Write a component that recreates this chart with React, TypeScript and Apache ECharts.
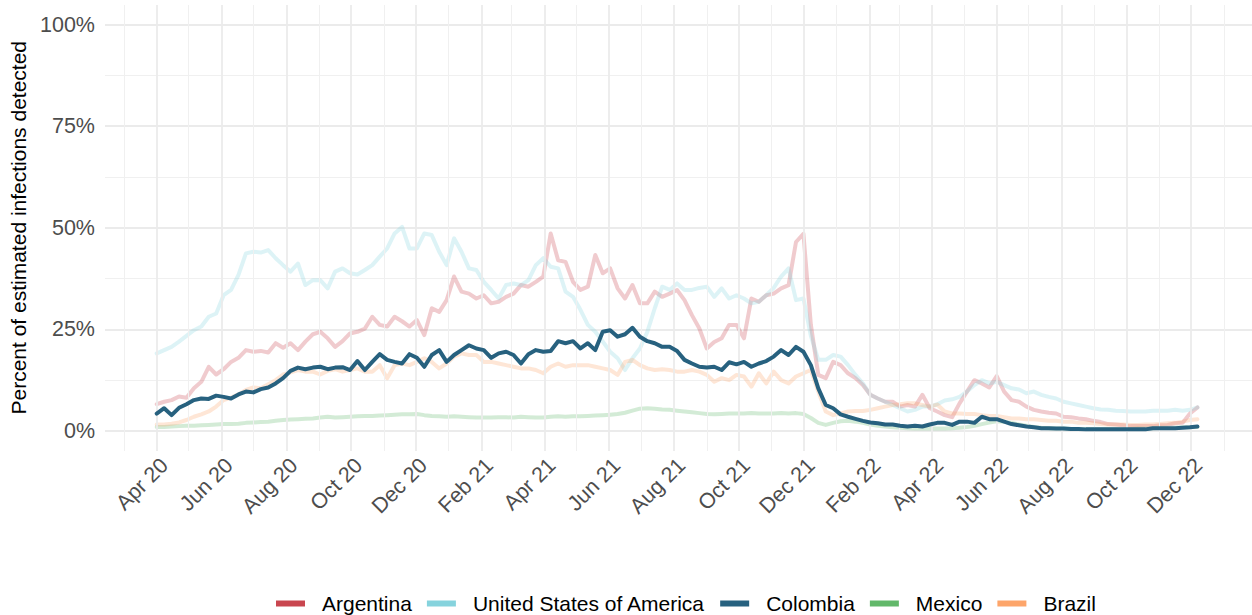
import React, { useEffect, useRef } from "react";
import * as echarts from "echarts";

const DAY = 86400000;
const START = Date.UTC(2020, 3, 1);
// weekly observation dates (Apr 1 2020 onwards)
const weekDates: number[] = Array.from({ length: 141 }, (_, k) => START + k * 7 * DAY);

const argentina = [
  6.6, 7.2, 7.6, 8.5, 8.2, 10.5, 12.1, 15.8, 13.9, 15.2,
  17.0, 18.0, 19.9, 19.5, 19.7, 19.3, 21.6, 20.5, 21.6, 19.9,
  22.0, 23.8, 24.4, 22.8, 20.7, 22.1, 24.0, 24.4, 25.2, 28.1,
  26.1, 25.7, 28.1, 27.0, 25.7, 27.3, 23.6, 30.2, 29.3, 32.2,
  38.0, 34.3, 33.8, 32.6, 33.4, 31.4, 31.8, 33.0, 33.8, 35.9,
  35.5, 36.7, 38.0, 48.6, 42.0, 41.6, 36.7, 34.7, 35.5, 43.3,
  38.8, 40.0, 35.1, 32.6, 35.9, 31.4, 31.4, 34.3, 33.0, 33.8,
  34.7, 32.2, 28.5, 25.2, 20.3, 21.9, 22.8, 26.1, 26.1, 22.8,
  32.6, 31.8, 33.4, 33.8, 35.1, 35.9, 46.5, 48.5, 26.1, 13.8,
  13.0, 17.0, 16.2, 14.2, 13.0, 11.3, 8.9, 8.0, 7.2, 7.2,
  6.0, 6.4, 6.0, 8.9, 5.6, 4.8, 3.9, 3.4, 6.8, 9.7,
  12.5, 11.7, 10.7, 13.5, 9.7, 7.6, 7.2, 6.0, 5.2, 4.8,
  4.5, 4.3, 3.5, 3.4, 3.1, 2.9, 2.5, 2.2, 1.7, 1.6,
  1.4, 1.2, 1.2, 1.2, 1.2, 1.4, 1.5, 1.9, 2.0, 4.3,
  5.8,
];

const usa = [
  19.1, 19.9, 20.7, 22.0, 23.4, 24.8, 25.7, 28.1, 28.9, 33.4,
  34.7, 38.4, 43.7, 44.1, 43.9, 44.5, 42.5, 40.8, 39.2, 41.2,
  35.9, 37.1, 37.1, 35.1, 39.2, 40.0, 38.8, 38.5, 39.6, 40.8,
  42.9, 44.9, 48.6, 50.2, 44.9, 44.9, 48.6, 48.2, 44.1, 40.8,
  47.4, 44.1, 40.0, 39.6, 36.7, 34.7, 32.6, 35.9, 36.3, 35.9,
  37.1, 40.8, 42.5, 40.4, 40.0, 34.3, 33.0, 29.8, 26.1, 24.4,
  22.0, 19.5, 17.9, 15.0, 17.9, 20.3, 24.4, 30.2, 35.5, 34.7,
  36.3, 34.7, 34.7, 35.2, 35.5, 33.0, 35.1, 32.6, 33.4, 32.6,
  31.4, 31.8, 33.4, 35.2, 38.0, 40.0, 32.2, 32.6, 23.4, 17.5,
  17.5, 18.7, 18.3, 16.2, 13.8, 11.7, 8.9, 8.0, 7.2, 6.4,
  5.6, 4.8, 5.2, 6.0, 6.0, 6.6, 7.5, 7.8, 8.4, 9.7,
  11.3, 12.5, 11.7, 12.1, 11.3, 10.5, 10.2, 9.3, 9.7, 8.9,
  8.4, 8.0, 7.2, 6.8, 6.4, 6.0, 5.6, 5.3, 5.2, 5.0,
  4.9, 4.8, 4.8, 4.8, 5.0, 5.0, 5.0, 5.2, 5.0, 5.2,
  5.8,
];

const colombia = [
  4.3, 5.6, 3.9, 5.7, 6.6, 7.6, 8.0, 7.9, 8.7, 8.4,
  8.0, 9.0, 9.7, 9.5, 10.3, 10.7, 11.7, 13.0, 14.8, 15.6,
  15.2, 15.6, 15.8, 15.2, 15.6, 15.7, 15.0, 17.2, 15.0, 17.0,
  18.9, 17.5, 17.0, 16.6, 18.9, 18.0, 15.8, 18.7, 19.9, 17.0,
  18.7, 19.9, 21.1, 20.3, 19.9, 18.0, 19.1, 19.5, 18.7, 16.6,
  18.9, 19.9, 19.5, 19.7, 22.1, 21.6, 22.1, 20.3, 21.6, 19.9,
  24.4, 24.8, 23.2, 23.8, 25.4, 23.2, 22.1, 21.6, 20.7, 20.7,
  19.7, 17.5, 16.6, 15.8, 15.6, 15.8, 15.0, 16.9, 16.4, 17.0,
  15.8, 16.6, 17.2, 18.3, 19.9, 18.7, 20.7, 19.5, 16.2, 10.5,
  6.4, 5.6, 4.1, 3.5, 3.0, 2.5, 2.1, 1.9, 1.6, 1.6,
  1.3, 1.1, 1.3, 1.1, 1.6, 2.0, 2.0, 1.5, 2.3, 2.3,
  2.0, 3.5, 2.9, 2.9, 2.3, 1.7, 1.4, 1.1, 0.9, 0.7,
  0.7, 0.6, 0.6, 0.5, 0.5, 0.4, 0.4, 0.4, 0.4, 0.4,
  0.4, 0.4, 0.4, 0.4, 0.7, 0.7, 0.7, 0.7, 0.8, 0.9,
  1.1,
];

const mexico = [
  1.0, 1.0, 1.1, 1.2, 1.3, 1.3, 1.4, 1.5, 1.6, 1.7,
  1.7, 1.8, 2.0, 2.1, 2.2, 2.3, 2.5, 2.7, 2.8, 2.9,
  3.0, 3.1, 3.3, 3.5, 3.3, 3.4, 3.5, 3.6, 3.7, 3.7,
  3.8, 3.9, 4.0, 4.1, 4.1, 4.2, 3.9, 3.7, 3.6, 3.5,
  3.6, 3.5, 3.4, 3.3, 3.3, 3.3, 3.4, 3.4, 3.3, 3.5,
  3.4, 3.3, 3.3, 3.5, 3.6, 3.5, 3.6, 3.6, 3.7, 3.8,
  3.9, 4.0, 4.2, 4.5, 5.0, 5.5, 5.6, 5.5, 5.3, 5.2,
  5.0, 4.8, 4.6, 4.4, 4.2, 4.1, 4.2, 4.3, 4.3, 4.3,
  4.4, 4.3, 4.3, 4.3, 4.4, 4.3, 4.4, 4.2, 3.2, 2.0,
  1.5, 2.0, 2.4, 2.5, 2.3, 2.0, 1.6, 1.3, 1.1, 0.9,
  0.8, 0.7, 0.6, 0.6, 0.6, 0.6, 0.6, 0.7, 0.8, 1.0,
  1.3, 1.7, 2.1, 2.4, 2.3, 2.0, 1.6, 1.3, 1.0, 0.8,
  0.7, 0.6, 0.6, 0.5, 0.5, 0.5, 0.5, 0.5, 0.5, 0.5,
  0.5, 0.5, 0.6, 0.6, 0.7, 0.8, 0.8, 0.8, 0.9, 0.9,
  1.0,
];

const brazil = [
  1.6, 1.6, 1.8, 2.1, 2.7, 3.5, 4.1, 4.8, 6.0, 7.6,
  8.2, 9.0, 10.1, 10.7, 10.5, 11.5, 12.5, 13.9, 14.4, 15.0,
  14.6, 14.6, 13.9, 14.8, 15.2, 14.6, 15.0, 15.4, 14.6, 14.6,
  16.2, 13.0, 16.2, 16.6, 16.2, 17.0, 17.9, 17.0, 15.4, 16.6,
  18.3, 19.1, 18.7, 18.7, 17.0, 17.0, 16.6, 16.2, 15.8, 15.4,
  15.4, 15.0, 14.2, 15.8, 16.6, 15.8, 16.2, 16.2, 16.2, 15.8,
  15.4, 15.0, 13.8, 17.0, 17.5, 16.2, 15.4, 15.0, 15.2, 15.0,
  14.6, 14.6, 15.0, 14.6, 13.8, 12.1, 13.0, 12.5, 13.8, 13.4,
  10.9, 14.2, 11.7, 14.6, 12.5, 11.7, 13.4, 14.2, 15.0, 9.7,
  4.8, 3.9, 4.3, 4.8, 4.9, 4.9, 5.2, 5.6, 6.0, 6.4,
  6.6, 6.8, 6.8, 6.4, 6.0, 6.5, 4.8, 4.3, 4.3, 4.2,
  4.2, 3.9, 3.7, 3.7, 3.4, 3.1, 3.1, 2.9, 2.9, 2.7,
  2.5, 2.5, 2.3, 2.3, 2.0, 2.0, 1.9, 1.7, 1.6, 1.6,
  1.6, 1.5, 1.5, 1.6, 1.6, 1.7, 1.9, 2.0, 2.3, 2.7,
  2.9,
];

const tickLabels = [
  "Apr 20", "Jun 20", "Aug 20", "Oct 20", "Dec 20",
  "Feb 21", "Apr 21", "Jun 21", "Aug 21", "Oct 21", "Dec 21",
  "Feb 22", "Apr 22", "Jun 22", "Aug 22", "Oct 22", "Dec 22",
];
const tickDates = [
  Date.UTC(2020, 3, 1), Date.UTC(2020, 5, 1), Date.UTC(2020, 7, 1), Date.UTC(2020, 9, 1), Date.UTC(2020, 11, 1),
  Date.UTC(2021, 1, 1), Date.UTC(2021, 3, 1), Date.UTC(2021, 5, 1), Date.UTC(2021, 7, 1), Date.UTC(2021, 9, 1), Date.UTC(2021, 11, 1),
  Date.UTC(2022, 1, 1), Date.UTC(2022, 3, 1), Date.UTC(2022, 5, 1), Date.UTC(2022, 7, 1), Date.UTC(2022, 9, 1), Date.UTC(2022, 11, 1),
];
const minorDates = [
  Date.UTC(2020, 2, 1), Date.UTC(2020, 4, 1), Date.UTC(2020, 6, 1), Date.UTC(2020, 8, 1), Date.UTC(2020, 10, 1),
  Date.UTC(2021, 0, 1), Date.UTC(2021, 2, 1), Date.UTC(2021, 4, 1), Date.UTC(2021, 6, 1), Date.UTC(2021, 8, 1), Date.UTC(2021, 10, 1),
  Date.UTC(2022, 0, 1), Date.UTC(2022, 2, 1), Date.UTC(2022, 4, 1), Date.UTC(2022, 6, 1), Date.UTC(2022, 8, 1), Date.UTC(2022, 10, 1),
  Date.UTC(2023, 0, 1),
];

const seriesNames = ["Argentina", "United States of America", "Colombia", "Mexico", "Brazil"];
const seriesColors = ["#C9464F", "#86D3DD", "#27617F", "#62B86A", "#FDA56A"];

// x positions are expressed in days since Apr 1 2020
const toDay = (ts: number) => (ts - START) / DAY;
const X_MIN = -48.7;
const X_MAX = 1031.4;
const FONT = "'Liberation Sans', Arial, Helvetica, sans-serif";

export default function App() {
  const ref = useRef<HTMLDivElement>(null);

  useEffect(() => {
    if (!ref.current) return;
    const chart = echarts.init(ref.current, null, { renderer: "svg" });
    const values = [argentina, usa, colombia, mexico, brazil];
    const tickDays = tickDates.map(toDay);
    const minorDays = minorDates.map(toDay);

    const dataSeries = values.map((arr, i) => {
      const highlighted = seriesNames[i] === "Colombia";
      return {
        name: seriesNames[i],
        type: "line",
        xAxisIndex: 1,
        yAxisIndex: 1,
        data: weekDates.map((d, j) => [toDay(d), arr[j]]),
        showSymbol: false,
        symbol: "none",
        smooth: false,
        silent: true,
        z: highlighted ? 5 : 3,
        itemStyle: { color: seriesColors[i] },
        lineStyle: {
          color: seriesColors[i],
          width: 4,
          opacity: highlighted ? 1 : 0.28,
          cap: "round",
          join: "round",
        },
      };
    });

    const gridSeries = {
      name: "_grid",
      type: "line",
      xAxisIndex: 0,
      yAxisIndex: 0,
      data: [[X_MIN, 0]],
      symbol: "none",
      silent: true,
      z: 1,
      lineStyle: { opacity: 0 },
      markLine: {
        silent: true,
        symbol: "none",
        label: { show: false },
        animation: false,
        data: [
          ...minorDays.map((d) => ({ xAxis: d, lineStyle: { color: "#F0F0F0", width: 1, type: "solid" } })),
          ...tickDays.map((d) => ({ xAxis: d, lineStyle: { color: "#EBEBEB", width: 1.8, type: "solid" } })),
        ],
      },
    };

    chart.setOption({
      animation: false,
      textStyle: { fontFamily: FONT },
      grid: [
        { left: 105, right: 0, top: 5, height: 446 },
        { left: 105, right: 0, top: 24.5, height: 406.5 },
      ],
      xAxis: [
        {
          type: "value",
          gridIndex: 0,
          min: X_MIN,
          max: X_MAX,
          axisLine: { show: false },
          axisTick: { show: false },
          splitLine: { show: false },
          axisLabel: {
            customValues: tickDays,
            rotate: 45,
            margin: 3,
            verticalAlign: "top",
            fontSize: 21.5,
            color: "#4D4D4D",
            fontFamily: FONT,
            hideOverlap: false,
            formatter: (v: number) => {
              let best = 0;
              for (let i = 1; i < tickDays.length; i++) {
                if (Math.abs(tickDays[i] - v) < Math.abs(tickDays[best] - v)) best = i;
              }
              return tickLabels[best];
            },
          },
        },
        {
          type: "value",
          gridIndex: 1,
          min: X_MIN,
          max: X_MAX,
          show: false,
          splitLine: { show: false },
        },
      ],
      yAxis: [
        { type: "value", gridIndex: 0, min: 0, max: 1, show: false, splitLine: { show: false } },
        {
          type: "value",
          gridIndex: 1,
          min: 0,
          max: 100,
          interval: 25,
          axisLine: { show: false },
          axisTick: { show: false },
          axisLabel: {
            formatter: (v: number) => `${v}%`,
            fontSize: 21.5,
            color: "#4D4D4D",
            margin: 10,
            fontFamily: FONT,
          },
          splitLine: { show: true, lineStyle: { color: "#EBEBEB", width: 1.8 } },
          minorTick: { show: false, splitNumber: 2 },
          minorSplitLine: { show: true, lineStyle: { color: "#F0F0F0", width: 1 } },
          name: "Percent of estimated infections detected",
          nameLocation: "middle",
          nameGap: 68,
          nameTextStyle: { fontSize: 21, color: "#000000", fontFamily: FONT },
        },
      ],
      legend: {
        top: 588,
        left: 271,
        icon: "rect",
        itemWidth: 29,
        itemHeight: 6,
        itemGap: 15,
        selectedMode: false,
        textStyle: { fontSize: 21, color: "#000000", fontFamily: FONT, padding: [0, 0, 0, 12] },
        data: seriesNames.map((n, i) => ({ name: n, itemStyle: { color: seriesColors[i], opacity: 1 } })),
      },
      series: [gridSeries, ...dataSeries],
    });

    return () => chart.dispose();
  }, []);

  return (
    <div
      ref={ref}
      style={{ position: "fixed", left: 0, top: 0, width: 1252, height: 615, background: "#FFFFFF" }}
    />
  );
}
